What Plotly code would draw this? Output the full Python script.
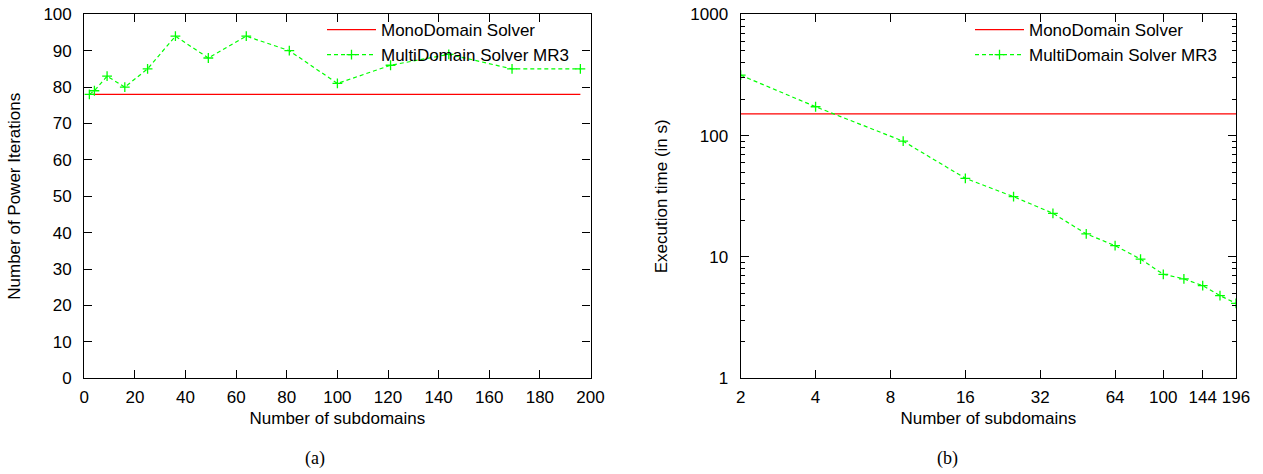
import math
import plotly.graph_objects as go

# ---- data ----
subdomains = [2, 4, 9, 16, 25, 36, 49, 64, 81, 100, 121, 144, 169, 196]
multi_iterations = [78, 79, 83, 80, 85, 94, 88, 94, 90, 81, 86, 89, 85, 85]
multi_time = [315, 173, 90, 44.5, 31.4, 22.9, 15.5, 12.4, 9.6, 7.2, 6.6, 5.8, 4.8, 4.15]
mono_x = [2, 196]
mono_iterations = [78, 78]
mono_time = [151, 151]
log_x_ticks = [2, 4, 8, 16, 32, 64, 100, 144, 196]
log_x_labels = ["2", "4", "8", "16", "32", "64", "100", "144", "196"]
log_y_ticks = [1, 10, 100, 1000]
log_y_labels = ["1", "10", "100", "1000"]
mono_name = "MonoDomain Solver"
multi_name = "MultiDomain Solver MR3"

W, H = 1263, 474
FONT = "Liberation Sans"
RED = "#ff0000"
GREEN = "#00ff00"


def px_x(px):
    return px / W


def px_y(px):
    return 1 - px / H


fig = go.Figure()


def add_pair(xa, ya, legend, mono_y, multi_y):
    fig.add_trace(go.Scatter(
        x=mono_x, y=mono_y, mode="lines", name=mono_name,
        line=dict(color=RED, width=1.2), xaxis=xa, yaxis=ya, legend=legend))
    fig.add_trace(go.Scatter(
        x=subdomains, y=multi_y, mode="lines+markers", name=multi_name,
        line=dict(color=GREEN, width=1.2, dash="4px,3px"),
        marker=dict(symbol="cross-thin", size=7, line=dict(color=GREEN, width=1.3)),
        xaxis=xa, yaxis=ya, legend=legend))


add_pair("x", "y", "legend", mono_iterations, multi_iterations)
add_pair("x2", "y2", "legend2", mono_time, multi_time)

ydom = [px_y(378.3), px_y(14.3)]
axis_common = dict(
    showline=True, linecolor="black", linewidth=1.3, mirror="ticks",
    ticks="inside", ticklen=8, tickwidth=1.2, tickcolor="black",
    showgrid=False, zeroline=False, automargin=False,
    ticklabeloverflow="allow",
    tickfont=dict(family=FONT, size=17, color="black"),
    title_font=dict(family=FONT, size=17, color="black"),
)

minor_vals = [m * 10 ** e for e in range(3) for m in range(2, 10)]

fig.update_layout(
    template="none",
    width=W, height=H,
    margin=dict(l=0, r=0, t=0, b=0, autoexpand=False),
    paper_bgcolor="white", plot_bgcolor="white",
    font=dict(family=FONT, size=17, color="black"),
    xaxis=dict(axis_common, domain=[px_x(84.3), px_x(590.5)], range=[0, 200], dtick=20,
               anchor="y", ticklabelstandoff=3,
               title=dict(text="Number of subdomains", standoff=6)),
    yaxis=dict(axis_common, domain=ydom, range=[0, 100], dtick=10, anchor="x",
               ticklabelstandoff=8,
               title=dict(text="Number of Power Iterations", standoff=18)),
    xaxis2=dict(axis_common, domain=[px_x(740.7), px_x(1236)], type="log",
                range=[math.log10(2), math.log10(196)],
                tickvals=log_x_ticks, ticktext=log_x_labels, anchor="y2",
                ticklabelstandoff=3,
                title=dict(text="Number of subdomains", standoff=6)),
    yaxis2=dict(axis_common, domain=ydom, type="log", range=[0, 3],
                tickvals=log_y_ticks, ticktext=log_y_labels, anchor="x2",
                ticklabelstandoff=8,
                minor=dict(ticks="inside", ticklen=4, tickwidth=1, tickcolor="black",
                           tickvals=minor_vals, showgrid=False),
                title=dict(text="Execution time (in s)", standoff=18)),
    legend=dict(x=px_x(574), xanchor="right", y=px_y(12), yanchor="top",
                bgcolor="rgba(0,0,0,0)", borderwidth=0, font=dict(family=FONT, size=17),
                itemwidth=49, tracegroupgap=0),
    legend2=dict(x=px_x(1222), xanchor="right", y=px_y(12), yanchor="top",
                 bgcolor="rgba(0,0,0,0)", borderwidth=0, font=dict(family=FONT, size=17),
                 itemwidth=49, tracegroupgap=0),
    showlegend=True,
)

for label, xc in (("(a)", 315), ("(b)", 947)):
    fig.add_annotation(text=label, x=px_x(xc), y=px_y(458), xref="paper", yref="paper",
                       showarrow=False, xanchor="center", yanchor="middle",
                       font=dict(family="Liberation Serif", size=18, color="black"))

fig.write_html("out.html", config={"displayModeBar": False},
               post_script="document.body.style.margin='0px';")
